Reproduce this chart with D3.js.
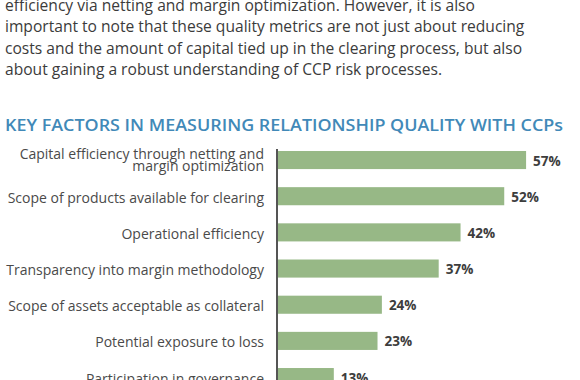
<!DOCTYPE html>
<head>
  <meta charset="utf-8">
  <style>
  body{
    margin:0;
    background:#fff;
    font-family:"Open Sans", sans-serif;
  }
  .para{ fill:#3b3b3b; font-size:15.6px; }
  .title{ fill:#4189b8; font-size:17px; font-weight:600; }
  .cat{ fill:#4a4a4a; font-size:14px; }
  .val{ fill:#3d3d3d; font-size:13.5px; font-weight:700; }
  </style>
</head>
<body>
  <svg width="580" height="380"></svg>
  <script src="https://d3js.org/d3.v7.min.js"></script>
  <script>

  var paragraph = [
    "efficiency via netting and margin optimization. However, it is also",
    "important to note that these quality metrics are not just about reducing",
    "costs and the amount of capital tied up in the clearing process, but also",
    "about gaining a robust understanding of CCP risk processes."
  ];
  var title = "KEY FACTORS IN MEASURING RELATIONSHIP QUALITY WITH CCPs";
  var categories = [
    "Capital efficiency through netting and|margin optimization",
    "Scope of products available for clearing",
    "Operational efficiency",
    "Transparency into margin methodology",
    "Scope of assets acceptable as collateral",
    "Potential exposure to loss",
    "Participation in governance"
  ];
  var values = [57, 52, 42, 37, 24, 23, 13];

  var svg = d3.select("svg");

  svg.selectAll("text.para")
    .data(paragraph)
    .enter().append("text")
      .attr("class", "para")
      .attr("x", 5)
      .attr("y", function(d, i) { return 11 + i * 21.4; })
      .text(function(d) { return d; });

  svg.append("text")
      .attr("class", "title")
      .attr("x", 5)
      .attr("y", 130.5)
      .attr("textLength", 558)
      .attr("lengthAdjust", "spacingAndGlyphs")
      .text(title);

  var x = d3.scaleLinear().domain([0, 100]).range([277, 714]);
  var y = d3.scaleBand().domain(categories).range([132.9, 404.2]).padding(0.5);

  var g = svg.append("g");

  g.selectAll("rect")
    .data(values)
    .enter().append("rect")
      .attr("x", x(0))
      .attr("y", function(d, i) { return y(categories[i]); })
      .attr("width", function(d) { return x(d) - x(0); })
      .attr("height", y.bandwidth())
      .attr("fill", "#97b886");

  g.selectAll("text.val")
    .data(values)
    .enter().append("text")
      .attr("class", "val")
      .attr("x", function(d) { return x(d) + 7; })
      .attr("y", function(d, i) { return y(categories[i]) + y.bandwidth() / 2 + 5.5; })
      .text(function(d) { return d + "%"; });

  var labels = g.selectAll("text.cat")
    .data(categories)
    .enter().append("text")
      .attr("class", "cat")
      .attr("text-anchor", "end")
      .attr("x", 264)
      .attr("y", function(d) {
        var n = d.split("|").length;
        return y(d) + y.bandwidth() / 2 + 6.5 - (n - 1) * 7.5;
      });

  labels.selectAll("tspan")
    .data(function(d) { return d.split("|"); })
    .enter().append("tspan")
      .attr("x", 264)
      .attr("dy", function(d, i) { return i ? 11.7 : 0; })
      .text(function(d) { return d; });

  // axis line
  svg.append("line")
      .attr("x1", x(0)).attr("x2", x(0))
      .attr("y1", 149).attr("y2", 380)
      .attr("stroke", "#555")
      .attr("stroke-width", 2);

  </script>
</body>
